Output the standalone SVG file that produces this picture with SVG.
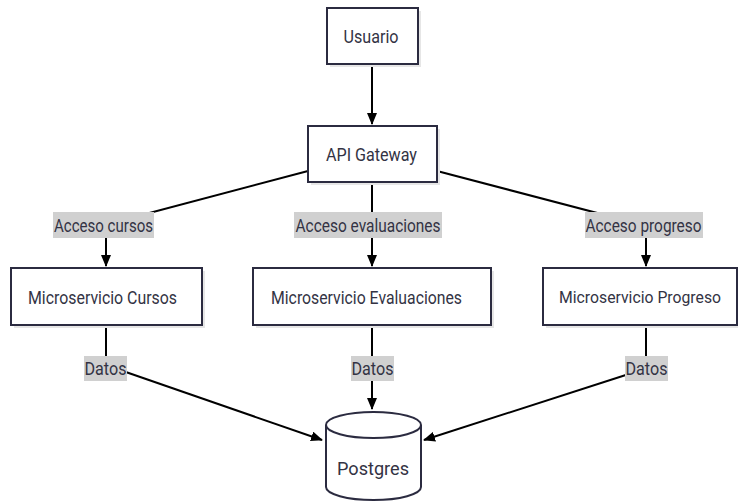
<svg xmlns="http://www.w3.org/2000/svg" width="741" height="504" viewBox="0 0 741 504">
<defs>
<marker id="arr" viewBox="0 0 12 10" refX="11" refY="5" markerWidth="12" markerHeight="10" markerUnits="userSpaceOnUse" orient="auto">
<path d="M0,0 L12,5 L0,10 z" fill="#000"/>
</marker>
<style>
.box{fill:#fff;stroke:#2b2b40;stroke-width:2}
.shadow{fill:#e6e6e6}
.t{font-family:"Liberation Sans Narrow","Roboto","Liberation Sans",sans-serif;font-size:18px;fill:#333344;text-anchor:middle;dominant-baseline:central}
.lbl{fill:#d0d0d0}
.edge{fill:none;stroke:#000;stroke-width:2}
.ea{fill:none;stroke:#000;stroke-width:2;marker-end:url(#arr)}
</style>
</defs>
<rect width="741" height="504" fill="#fff"/>
<g id="connectors">
<line class="ea" x1="372" y1="64" x2="372" y2="124"/>
<line class="edge" x1="308" y1="171" x2="104" y2="225"/>
<line class="ea" x1="106" y1="238" x2="106" y2="266"/>
<line class="edge" x1="372" y1="182" x2="372" y2="225"/>
<line class="ea" x1="372" y1="238" x2="372" y2="266"/>
<line class="edge" x1="437" y1="171" x2="643" y2="225"/>
<line class="ea" x1="646" y1="238" x2="646" y2="266"/>
<line class="edge" x1="106" y1="325" x2="106" y2="368"/>
<line class="ea" x1="120" y1="370" x2="322" y2="440"/>
<line class="edge" x1="372" y1="325" x2="372" y2="368"/>
<line class="ea" x1="372" y1="381" x2="372" y2="409"/>
<line class="edge" x1="646" y1="325" x2="646" y2="368"/>
<line class="ea" x1="632" y1="373" x2="424" y2="440"/>
</g>
<g id="labels">
<rect class="lbl" x="53" y="212" width="101" height="26"/>
<text class="t" x="103.5" y="225" textLength="99" lengthAdjust="spacingAndGlyphs">Acceso cursos</text>
<rect class="lbl" x="294" y="212" width="148" height="26"/>
<text class="t" x="368" y="225" textLength="145" lengthAdjust="spacingAndGlyphs">Acceso evaluaciones</text>
<rect class="lbl" x="585" y="212" width="118" height="26"/>
<text class="t" x="643.5" y="225" textLength="116" lengthAdjust="spacingAndGlyphs">Acceso progreso</text>
<rect class="lbl" x="84" y="356" width="43" height="25"/>
<text class="t" x="105.5" y="368" textLength="42" lengthAdjust="spacingAndGlyphs">Datos</text>
<rect class="lbl" x="351" y="356" width="43" height="25"/>
<text class="t" x="372.5" y="368" textLength="42" lengthAdjust="spacingAndGlyphs">Datos</text>
<rect class="lbl" x="625" y="356" width="43" height="25"/>
<text class="t" x="646.5" y="368" textLength="42" lengthAdjust="spacingAndGlyphs">Datos</text>
</g>
<g id="usuario">
<rect class="shadow" x="330" y="11" width="91" height="56"/>
<rect class="box" x="327" y="8" width="91" height="56"/>
<text class="t" x="371" y="36" textLength="55" lengthAdjust="spacingAndGlyphs">Usuario</text>
</g>
<g id="api-gateway">
<rect class="shadow" x="311" y="129" width="129" height="56"/>
<rect class="box" x="308" y="126" width="129" height="56"/>
<text class="t" x="371.5" y="154" textLength="91" lengthAdjust="spacingAndGlyphs">API Gateway</text>
</g>
<g id="ms-cursos">
<rect class="shadow" x="14" y="271" width="191" height="57"/>
<rect class="box" x="11" y="268" width="191" height="57"/>
<text class="t" x="102.5" y="297" textLength="149" lengthAdjust="spacingAndGlyphs">Microservicio Cursos</text>
</g>
<g id="ms-evaluaciones">
<rect class="shadow" x="256" y="271" width="238" height="57"/>
<rect class="box" x="253" y="268" width="238" height="57"/>
<text class="t" x="366.5" y="297" textLength="191" lengthAdjust="spacingAndGlyphs">Microservicio Evaluaciones</text>
</g>
<g id="ms-progreso">
<rect class="shadow" x="546" y="271" width="192" height="57"/>
<rect class="box" x="543" y="268" width="194" height="57"/>
<text class="t" x="640" y="297" textLength="162" lengthAdjust="spacingAndGlyphs" style="font-size:16.5px">Microservicio Progreso</text>
</g>
<g id="postgres">
<path d="M326,425 A47.5,13 0 0 1 421,425 L421,487 A47.5,13 0 0 1 326,487 Z" fill="#fff" stroke="#2b2b40" stroke-width="2"/>
<path d="M326,425 A47.5,13 0 0 0 421,425" fill="none" stroke="#2b2b40" stroke-width="2"/>
<text class="t" x="373" y="468" textLength="72" lengthAdjust="spacingAndGlyphs">Postgres</text>
</g>
</svg>
